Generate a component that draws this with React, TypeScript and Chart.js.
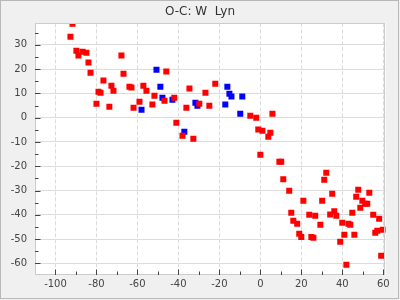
import React, { useEffect, useRef } from 'react';
import { Chart, registerables } from 'chart.js';

Chart.register(...registerables);

const chartTitle = 'O-C: W  Lyn';
const xTickValues = [-100, -80, -60, -40, -20, 0, 20, 40, 60];
const yTickValues = [-60, -50, -40, -30, -20, -10, 0, 10, 20, 30];

const redX = [
  -91.7, -92.7, -89.8, -88.8, -86.8, -84.9, -83.9, -82.9, -80.0, -79.0,
  -78.0, -76.6, -73.7, -72.7, -71.7, -67.8, -66.8, -63.9, -62.9, -61.9,
  -59.0, -57.1, -55.6, -52.7, -51.7, -46.8, -45.9, -42.0, -41.0, -38.0,
  -36.1, -34.6, -32.7, -29.8, -26.8, -24.9, -22.0, -4.9, -2.0, -1.0,
  0.0, 1.0, 3.9, 4.9, 5.9, 9.3, 10.2, 11.2, 14.1, 15.1,
  16.1, 18.0, 19.0, 20.0, 21.0, 23.9, 24.9, 25.9, 26.8, 29.3,
  30.2, 31.2, 32.2, 34.1, 35.1, 36.1, 37.1, 39.0, 40.0, 41.0,
  42.0, 43.0, 43.9, 44.9, 45.9, 46.8, 47.8, 48.8, 49.8, 51.2,
  52.2, 53.2, 55.1, 56.1, 57.1, 58.0, 59.0, 59.8,
];
const redY = [
  38.7, 33.4, 27.6, 25.6, 27.2, 26.8, 22.7, 18.5, 5.8, 10.7,
  10.3, 15.3, 4.5, 13.2, 11.1, 25.6, 18.1, 12.8, 12.4, 4.1,
  6.6, 13.2, 11.1, 5.4, 9.1, 7.0, 19.0, 8.2, -2.1, -7.4,
  4.1, 12.0, -8.7, 5.8, 10.3, 4.9, 14.0, 0.8, 0.0, -4.9,
  -15.3, -5.4, -7.8, -6.2, 1.6, -18.1, -18.1, -25.4, -30.1, -39.2,
  -42.5, -43.7, -47.8, -49.1, -34.2, -40.0, -49.1, -49.5, -40.4, -44.1,
  -34.2, -25.6, -22.7, -39.9, -31.3, -38.5, -40.4, -51.1, -43.3, -48.2,
  -60.6, -43.7, -44.1, -39.2, -48.2, -32.6, -29.7, -37.1, -34.2, -35.4,
  -35.4, -30.9, -40.0, -47.4, -46.6, -41.6, -56.9, -46.2,
];

const blueX = [-58.0, -50.7, -48.8, -47.8, -42.9, -37.1, -31.7, -30.7, -17.1, -16.1, -15.1, -14.1, -9.8, -8.8];
const blueY = [3.3, 19.8, 12.8, 8.2, 7.4, -5.8, 6.2, 4.9, 5.4, 12.8, 9.9, 8.7, 1.6, 8.7];

const FONT = '"DejaVu Sans", sans-serif';

export default function App() {
  const ref = useRef<HTMLCanvasElement>(null);

  useEffect(() => {
    document.body.style.margin = '0';
    const canvas = ref.current;
    if (!canvas) return;

    const framePlugin = {
      id: 'frame',
      beforeDraw(chart: any) {
        const { ctx, chartArea: a, width, height } = chart;
        ctx.save();
        ctx.fillStyle = '#f0f0f0';
        ctx.fillRect(0, 0, width, height);
        ctx.strokeStyle = '#b8b8b8';
        ctx.lineWidth = 1;
        ctx.strokeRect(0.5, 0.5, 398, 298);
        ctx.fillStyle = '#ffffff';
        ctx.fillRect(a.left, a.top, a.right - a.left, a.bottom - a.top);
        ctx.fillStyle = '#333333';
        ctx.font = '12px ' + FONT;
        ctx.textAlign = 'center';
        ctx.textBaseline = 'alphabetic';
        ctx.fillText(chartTitle, 200, 15);
        ctx.restore();
      },
      afterDraw(chart: any) {
        const { ctx, chartArea: a } = chart;
        const xs = chart.scales.x;
        const ys = chart.scales.y;
        ctx.save();
        ctx.lineWidth = 1;
        ctx.strokeStyle = '#cccccc';
        const l = Math.floor(a.left) + 0.5;
        const t = Math.floor(a.top) + 0.5;
        const r = Math.floor(a.right) - 0.5;
        const b = Math.floor(a.bottom) - 0.5;
        ctx.strokeRect(l, t, r - l, b - t);

        ctx.strokeStyle = '#444444';
        ctx.beginPath();
        for (const v of yTickValues) {
          const py = Math.round(ys.getPixelForValue(v)) + 0.5;
          ctx.moveTo(a.left, py);
          ctx.lineTo(a.left + 5.5, py);
        }
        for (let i = 0; i < yTickValues.length; i++) {
          const v = yTickValues[i] + 5;
          if (v > ys.max) continue;
          const py = Math.round(ys.getPixelForValue(v)) + 0.5;
          ctx.moveTo(a.left, py);
          ctx.lineTo(a.left + 3.5, py);
        }
        for (const v of xTickValues) {
          const px = Math.round(xs.getPixelForValue(v)) + 0.5;
          ctx.moveTo(px, a.bottom);
          ctx.lineTo(px, a.bottom - 5.5);
        }
        for (let i = 0; i < xTickValues.length - 1; i++) {
          const v = xTickValues[i] + 10;
          const px = Math.round(xs.getPixelForValue(v)) + 0.5;
          ctx.moveTo(px, a.bottom);
          ctx.lineTo(px, a.bottom - 3.5);
        }
        ctx.stroke();
        ctx.restore();
      },
    };

    const chart = new Chart(canvas, {
      type: 'scatter',
      data: {
        datasets: [
          {
            data: redX.map((x, i) => ({ x, y: redY[i] })),
            backgroundColor: '#ff0000',
            pointStyle: 'rect',
            pointRadius: 4.243,
            pointBorderWidth: 0,
            clip: 0,
          },
          {
            data: blueX.map((x, i) => ({ x, y: blueY[i] })),
            backgroundColor: '#0000ff',
            pointStyle: 'rect',
            pointRadius: 4.243,
            pointBorderWidth: 0,
            clip: 0,
          },
        ],
      },
      options: {
        responsive: false,
        animation: false,
        events: [],
        layout: { padding: { top: 23.3, right: 14.3, left: 0, bottom: 0 } },
        plugins: {
          legend: { display: false },
          title: { display: false },
          tooltip: { enabled: false },
        },
        scales: {
          x: {
            type: 'linear',
            min: -110,
            max: 61.2,
            afterBuildTicks: (s: any) => {
              s.ticks = xTickValues.map((v) => ({ value: v }));
            },
            afterFit: (s: any) => {
              s.height = 25;
            },
            grid: { color: '#dcdcdc', drawTicks: false, lineWidth: 1 },
            border: { display: false, dash: [4, 2] },
            ticks: {
              font: { family: FONT, size: 10 },
              color: '#444444',
              padding: 3,
              maxRotation: 0,
              autoSkip: false,
            },
          },
          y: {
            type: 'linear',
            min: -64.8,
            max: 38.9,
            afterBuildTicks: (s: any) => {
              s.ticks = yTickValues.map((v) => ({ value: v }));
            },
            afterFit: (s: any) => {
              s.width = 35;
            },
            grid: { color: '#dcdcdc', drawTicks: false, lineWidth: 1 },
            border: { display: false },
            ticks: {
              font: { family: FONT, size: 10 },
              color: '#444444',
              padding: 8,
              autoSkip: false,
            },
          },
        },
      },
      plugins: [framePlugin],
    });

    return () => chart.destroy();
  }, []);

  return (
    <div style={{ width: 400, height: 300 }}>
      <canvas ref={ref} width={400} height={300} style={{ display: 'block' }} />
    </div>
  );
}
